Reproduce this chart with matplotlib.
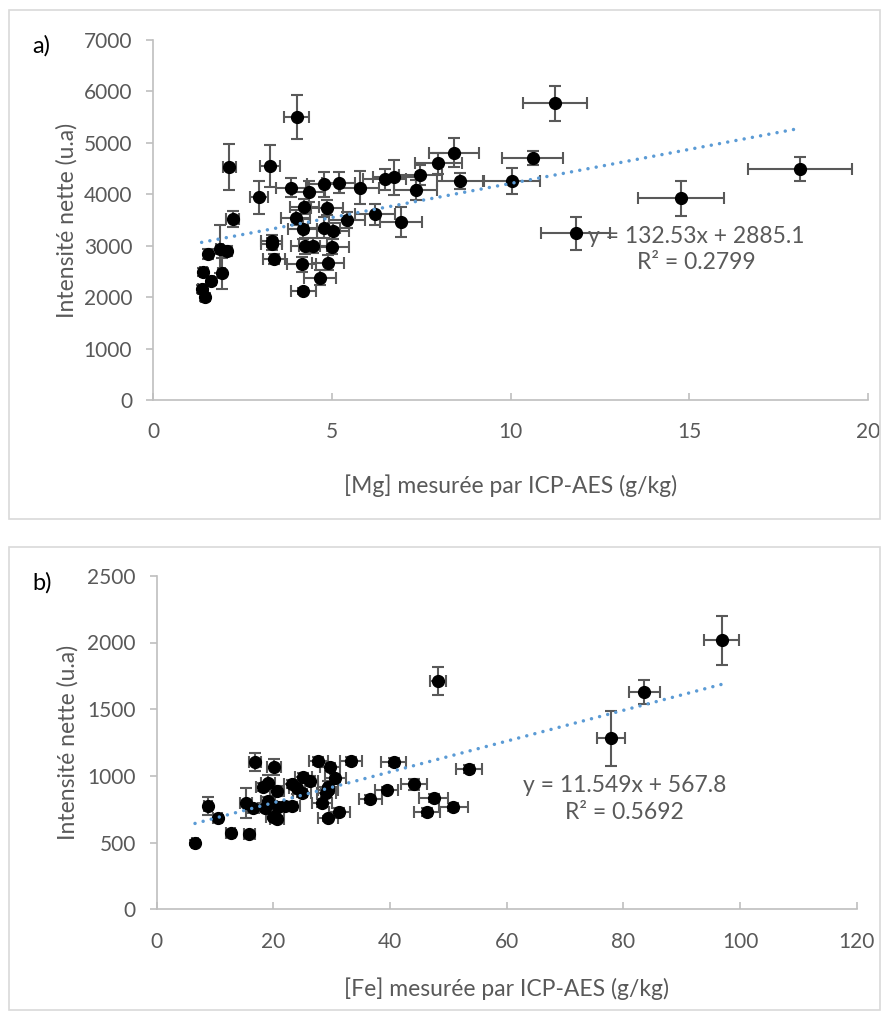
import matplotlib.pyplot as plt
from matplotlib.patches import Rectangle
import numpy as np

plt.rcParams['font.family'] = ['Lato', 'DejaVu Sans']

# panel a : Mg
mg_x = [4.02, 2.13, 3.27, 2.97, 2.23, 3.87, 4.35, 4.77, 5.19, 5.78, 6.48, 6.75, 4.23,
        4.86, 3.99, 4.19, 4.79, 5.03, 5.42, 6.21, 6.94, 3.32, 3.32, 3.38, 4.26, 4.48,
        5.02, 4.16, 4.89, 4.67, 4.20, 1.55, 1.87, 2.06, 1.92, 1.41, 1.62, 1.36, 1.45,
        11.25, 8.42, 7.98, 10.62, 7.47, 7.35, 8.60, 10.03, 11.82, 18.10, 14.76]
mg_y = [5508, 4536, 4549, 3940, 3518, 4128, 4050, 4193, 4225, 4128, 4290, 4330, 3758,
        3738, 3544, 3324, 3350, 3285, 3499, 3609, 3467, 3097, 3032, 2735, 2994, 3000,
        2981, 2638, 2670, 2378, 2119, 2844, 2929, 2903, 2462, 2482, 2313, 2158, 1996,
        5768, 4808, 4601, 4710, 4374, 4082, 4257, 4257, 3240, 4490, 3920]
mg_xerr = [0.35, 0.18, 0.28, 0.26, 0.18, 0.42, 0.45, 0.45, 0.45, 0.55, 0.6, 0.6, 0.4,
           0.45, 0.4, 0.4, 0.45, 0.45, 0.5, 0.55, 0.58, 0.3, 0.3, 0.3, 0.4, 0.4,
           0.45, 0.4, 0.45, 0.45, 0.35, 0.1, 0.1, 0.15, 0.1, 0.1, 0.1, 0.1, 0.1,
           0.9, 0.69, 0.65, 0.85, 0.6, 0.6, 0.65, 0.79, 0.96, 1.45, 1.2]
mg_yerr = [430, 450, 410, 318, 155, 180, 200, 240, 200, 324, 200, 340, 150,
           150, 150, 200, 200, 150, 150, 200, 290, 120, 120, 100, 150, 150,
           150, 150, 150, 150, 50, 100, 465, 100, 300, 80, 80, 80, 80,
           344, 282, 200, 140, 200, 200, 150, 260, 324, 227, 344]
mg_slope, mg_icpt, mg_r2 = 132.53, 2885.1, 0.2799

# panel b : Fe
fe_x = [6.57, 8.85, 10.45, 12.69, 15.88, 16.86, 20.1, 15.26, 16.57, 18.28, 19.14, 20.58,
        19.14, 18.57, 20.0, 20.69, 20.86, 22.0, 23.15, 23.15, 24.0, 25.15, 26.2, 24.87,
        27.7, 29.7, 30.6, 29.4, 28.3, 29.4, 31.3, 33.3, 36.6, 48.25, 40.6, 53.56, 44.1,
        39.45, 47.46, 46.3, 50.87, 29.1, 29.4, 83.6, 77.9, 96.9]
fe_y = [500, 775, 687, 575, 562, 1102, 1070, 795, 762, 920, 945, 887,
        812, 757, 695, 677, 770, 775, 777, 937, 912, 995, 962, 870,
        1115, 1070, 982, 895, 800, 682, 727, 1115, 825, 1710, 1102, 1055, 937,
        895, 832, 727, 765, 870, 920, 1630, 1282, 2015]
fe_xerr = [0.5, 0.7, 0.8, 0.8, 1, 1, 1.2, 1, 1, 1.2, 1.2, 1.2,
           1.2, 1.2, 1.2, 1.2, 1.2, 1.3, 1.4, 1.4, 1.4, 1.5, 1.5, 1.5,
           1.6, 1.7, 1.8, 1.7, 1.7, 1.7, 1.8, 1.9, 2, 1.4, 2.2, 2.2, 2.2,
           2, 2.5, 2.2, 2.5, 1.7, 1.7, 2.6, 2.4, 3.0]
fe_yerr = [20, 66, 20, 20, 20, 69, 60, 114, 30, 30, 60, 40,
           30, 30, 20, 20, 30, 30, 30, 30, 50, 30, 40, 30,
           30, 30, 30, 30, 30, 20, 30, 30, 30, 104, 30, 30, 40,
           20, 30, 30, 30, 30, 40, 91, 208, 185]
fe_slope, fe_icpt, fe_r2 = 11.549, 567.8, 0.5692

grey = '#595959'
fig = plt.figure(figsize=(8.9, 10.21), dpi=100)

# panel frames
for y0, h in [(1 - 519 / 1021, 509 / 1021), (1 - 1010 / 1021, 463 / 1021)]:
    fig.patches.append(Rectangle((9 / 890, y0), 871 / 890, h, transform=fig.transFigure,
                                 fill=False, edgecolor='#D9D9D9', linewidth=1.2))

ax1 = fig.add_axes([153 / 890, 1 - 400 / 1021, 715 / 890, 360 / 1021])
ax2 = fig.add_axes([156.7 / 890, 1 - 909.3 / 1021, 700 / 890, 333.5 / 1021])


def draw(ax, x, y, xe, ye, slope, icpt, r2, xlim, ylim, xticks, yticks, xlabel, eqpos):
    ax.errorbar(x, y, xerr=xe, yerr=ye, fmt='o', color='black', markersize=8.5,
                ecolor=grey, elinewidth=1.5, capsize=4.5, capthick=1.5, zorder=3)
    xs = np.array([min(x), max(x)])
    ax.plot(xs, slope * xs + icpt, color='#5B9BD5', linewidth=2.5,
            linestyle=(0, (0.01, 2.4)), dash_capstyle='round', zorder=4)
    ax.set_xlim(*xlim)
    ax.set_ylim(*ylim)
    ax.set_xticks(xticks)
    ax.set_yticks(yticks)
    for s in ['top', 'right']:
        ax.spines[s].set_visible(False)
    for s in ['left', 'bottom']:
        ax.spines[s].set_color('#BFBFBF')
        ax.spines[s].set_linewidth(1.2)
    ax.tick_params(axis='y', direction='out', length=5, width=1.2, color='#BFBFBF',
                   labelsize=15, labelcolor=grey, pad=10)
    ax.tick_params(axis='x', direction='in', length=5, width=1.2, color='#BFBFBF',
                   labelsize=15, labelcolor=grey, pad=16)
    ax.set_xlabel(xlabel, fontsize=16.5, color=grey)
    ax.set_ylabel('Intensité nette (u.a)', fontsize=16.5, color=grey)
    ax.text(eqpos[0], eqpos[1], f'y = {slope}x + {icpt}\nR² = {r2}', fontsize=16.5,
            color=grey, ha='center', va='center', linespacing=1.3, zorder=5)


draw(ax1, mg_x, mg_y, mg_xerr, mg_yerr, mg_slope, mg_icpt, mg_r2, (0, 20), (0, 7000),
     range(0, 21, 5), range(0, 7001, 1000), '[Mg] mesurée par ICP-AES (g/kg)', (15.2, 2935))
draw(ax2, fe_x, fe_y, fe_xerr, fe_yerr, fe_slope, fe_icpt, fe_r2, (0, 120), (0, 2500),
     range(0, 121, 20), range(0, 2501, 500), '[Fe] mesurée par ICP-AES (g/kg)', (80.2, 827))

ax1.yaxis.set_label_coords(-0.105, 0.5)
ax1.xaxis.set_label_coords(0.5, -0.206)
ax2.yaxis.set_label_coords(-0.112, 0.5)
ax2.xaxis.set_label_coords(0.5, -0.203)

fig.text(32 / 890, 1 - 46 / 1021, 'a)', fontsize=17, va='center', ha='left')
fig.text(32 / 890, 1 - 583 / 1021, 'b)', fontsize=17, va='center', ha='left')

fig.savefig('out.png', dpi=100)
